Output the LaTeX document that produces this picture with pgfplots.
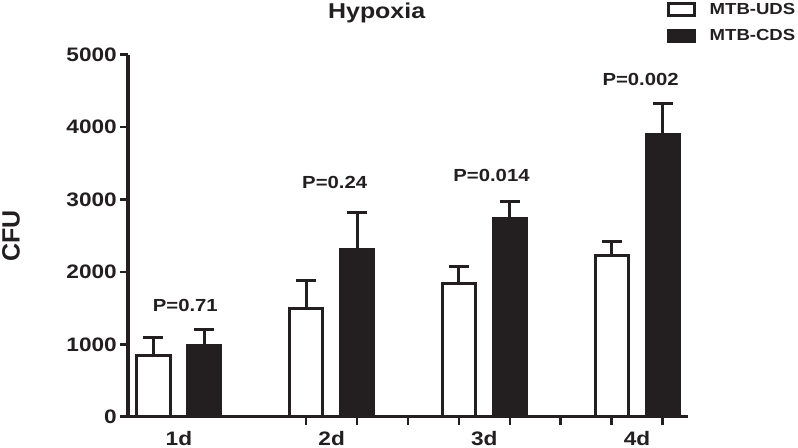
\documentclass[border=0pt]{standalone}
\usepackage{pgfplots}
\pgfplotsset{compat=1.18}
\usepackage{fontspec}
\setmainfont{Liberation Sans}[FakeStretch=1.16]
\newfontfamily\plainfont{Liberation Sans}
\definecolor{ink}{HTML}{231F20}
\begin{document}
\begin{tikzpicture}
\path[use as bounding box] (0,0) rectangle (798bp,448bp);
\begin{axis}[
  at={(128bp,31.3bp)}, anchor=south west,
  width=560bp, height=362bp, scale only axis,
  xmin=-0.5, xmax=10.5, ymin=0, ymax=5000,
  axis lines*=left,
  axis line style={line width=3bp, color=ink},
  tick align=outside, major tick length=8bp,
  tick style={line width=2.5bp, color=ink},
  ytick={0,1000,2000,3000,4000,5000},
  yticklabels={0,1000,2000,3000,4000,5000},
  xtick={3,4,5,6,7,8,9,10},
  xticklabels={},
  extra x ticks={0.5,3.5,6.5,9.5},
  extra x tick labels={1d,2d,3d,4d},
  extra x tick style={major tick length=0pt, tick label style={yshift=-11bp}},
  ticklabel style={font=\bfseries\fontsize{19.5bp}{22bp}\selectfont, color=ink},
  yticklabel style={inner sep=0pt, xshift=-3bp},
  ylabel={CFU},
  ylabel style={font=\plainfont\bfseries\fontsize{25bp}{28bp}\selectfont, color=ink, at={(axis description cs:-0.209,0.5)}, anchor=center},
  legend style={at={(axis description cs:0.9625,1.1456)}, anchor=north west, draw=none, fill=none, inner sep=0pt, column sep=14bp, row sep=12bp, font=\bfseries\fontsize{16bp}{18bp}\selectfont, text=ink, nodes={inner sep=0pt}},
  legend cell align=left,
  clip=false,
]
\addplot[ybar, bar width=0.65, bar shift=0pt, fill=white, draw=ink, line width=3bp,
  legend image code/.code={\draw[fill=white, draw=ink, line width=2.5bp] (0bp,-6bp) rectangle (26bp,6bp);},
  error bars/.cd, y dir=plus, y explicit,
  error bar style={line width=3bp, color=ink},
  error mark options={rotate=90, line width=3bp, mark size=10bp, color=ink}]
  coordinates {(0,845) +- (0,243) (3,1499) +- (0,382) (6,1844) +- (0,224) (9,2222) +- (0,198)};
\addlegendentry{MTB-UDS}
\addplot[ybar, bar width=0.65, bar shift=0pt, fill=ink, draw=ink, line width=3bp,
  legend image code/.code={\draw[fill=ink, draw=ink, line width=2.5bp] (0bp,-6bp) rectangle (26bp,6bp);},
  error bars/.cd, y dir=plus, y explicit,
  error bar style={line width=3bp, color=ink},
  error mark options={rotate=90, line width=3bp, mark size=10bp, color=ink}]
  coordinates {(1,985) +- (0,215) (4,2305) +- (0,522) (7,2744) +- (0,222) (10,3894) +- (0,428)};
\addlegendentry{MTB-CDS}
\node[font=\bfseries\fontsize{21.5bp}{24bp}\selectfont, text=ink, anchor=base, inner sep=0pt] at (axis description cs:0.444,1.099) {Hypoxia};
\begin{scope}[every node/.style={font=\bfseries\fontsize{17.5bp}{20bp}\selectfont, text=ink, anchor=base, inner sep=0pt}]
\node at (axis cs:0.626,1450) {P=0.71};
\node at (axis cs:3.56,3155) {P=0.24};
\node at (axis cs:6.64,3246) {P=0.014};
\node at (axis cs:9.57,4572) {P=0.002};
\end{scope}
\end{axis}
\end{tikzpicture}
\end{document}
